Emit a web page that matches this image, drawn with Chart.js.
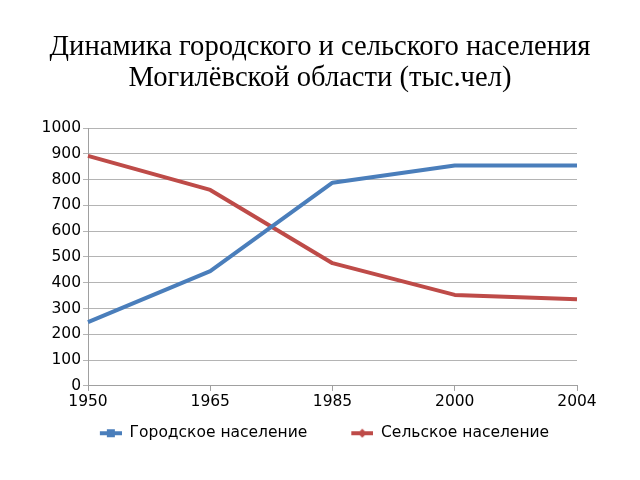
<!DOCTYPE html>
<html>
<head>
<meta charset="utf-8">
<script src="https://cdn.jsdelivr.net/npm/chart.js@4/dist/chart.umd.min.js"></script>
<style>
html,body{margin:0;padding:0;background:#fff;}
#wrap{width:640px;height:480px;}
</style>
</head>
<body>
<div id="wrap"><canvas id="c" width="640" height="480"></canvas></div>
<script>
const categories = ['1950', '1965', '1985', '2000', '2004'];
const urban = [247, 445, 788, 855, 855];
const rural = [892, 760, 476, 353, 336];
const seriesNames = ['Городское население', 'Сельское население'];
const titleLines = ['Динамика городского и сельского населения', 'Могилёвской области (тыс.чел)'];

const blue = '#4A7EBB';
const red = '#BE4B48';

// legend icon: 9px transparent lead-in, then a 22px line with marker
function legendIcon(color, shape) {
  const cv = document.createElement('canvas');
  cv.width = 31; cv.height = 10;
  const g = cv.getContext('2d');
  const ox = 9;
  g.strokeStyle = color; g.lineWidth = 4;
  g.beginPath(); g.moveTo(ox, 5); g.lineTo(ox + 22, 5); g.stroke();
  g.fillStyle = color;
  if (shape === 'rect') { g.fillRect(ox + 7, 1, 8, 8); }
  else { g.beginPath(); g.moveTo(ox + 11, 0.5); g.lineTo(ox + 15.5, 5); g.lineTo(ox + 11, 9.5); g.lineTo(ox + 6.5, 5); g.closePath(); g.fill(); }
  return cv;
}
const icons = [legendIcon(blue, 'rect'), legendIcon(red, 'rectRot')];

const legendNudge = {
  id: 'legendNudge',
  afterLayout(chart) {
    const l = chart.legend;
    if (l) { l.top -= 23; l.bottom -= 23; }
  }
};

new Chart(document.getElementById('c'), {
  type: 'line',
  data: {
    labels: categories,
    datasets: [
      { label: seriesNames[0], data: urban, borderColor: blue, backgroundColor: blue, borderWidth: 4, borderJoinStyle: 'round', pointStyle: 'rect', pointRadius: 0, tension: 0 },
      { label: seriesNames[1], data: rural, borderColor: red, backgroundColor: red, borderWidth: 4, borderJoinStyle: 'round', pointStyle: 'rectRot', pointRadius: 0, tension: 0 }
    ]
  },
  plugins: [legendNudge],
  options: {
    responsive: false,
    animation: false,
    layout: { padding: { left: 40, right: 40, top: 0, bottom: 6 } },
    plugins: {
      title: {
        display: true, text: titleLines, color: '#000',
        font: { family: 'Liberation Serif', size: 28.6, weight: 'normal', lineHeight: 1.085 },
        padding: { top: 31.5, bottom: 34.5 }
      },
      legend: {
        position: 'bottom',
        labels: {
          color: '#000', font: { family: 'DejaVu Sans', size: 15.5 },
          usePointStyle: true, pointStyleWidth: 31, boxWidth: 31, boxHeight: 10, padding: 35,
          generateLabels: (chart) => chart.data.datasets.map((d, i) => ({
            text: d.label, pointStyle: icons[i], fillStyle: d.borderColor, strokeStyle: d.borderColor,
            lineWidth: 0, hidden: false, datasetIndex: i, fontColor: '#000'
          }))
        }
      },
      tooltip: { enabled: false }
    },
    scales: {
      x: {
        offset: false,
        grid: { display: true, drawOnChartArea: false, drawTicks: true, tickLength: 5, color: '#a0a0a0' },
        border: { color: '#a0a0a0', width: 1 },
        ticks: { color: '#000', font: { family: 'DejaVu Sans', size: 15.5 }, padding: 2, maxRotation: 0 }
      },
      y: {
        min: 0, max: 1000,
        afterFit: (s) => { s.width = 48; },
        grid: { color: '#b4b4b4', tickLength: 5 },
        border: { color: '#a0a0a0', width: 1 },
        ticks: { stepSize: 100, color: '#000', font: { family: 'DejaVu Sans', size: 15.5 }, padding: 2,
                 callback: (v) => String(v) }
      },
      yRightSpace: {
        type: 'linear', position: 'right', display: true,
        afterFit: (s) => { s.width = 23; },
        grid: { display: false },
        border: { display: false },
        ticks: { display: false }
      }
    }
  }
});
</script>
</body>
</html>
